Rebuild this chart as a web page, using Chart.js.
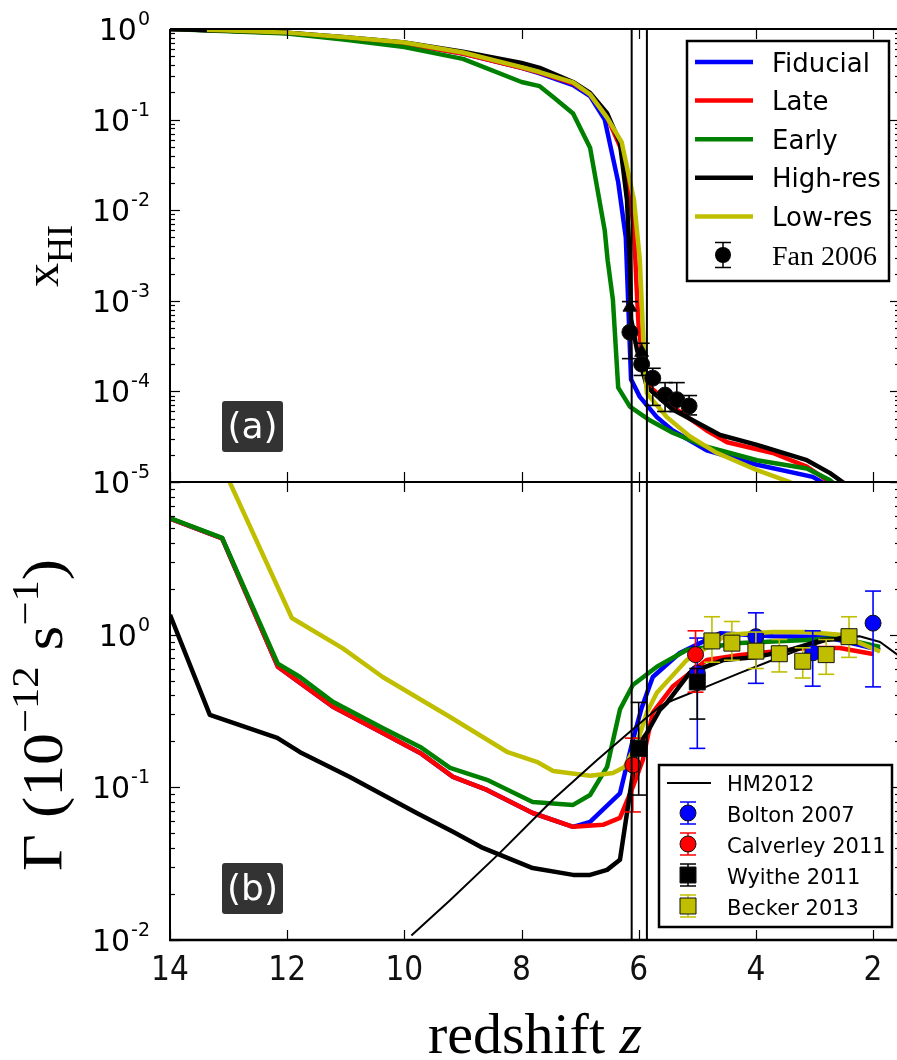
<!DOCTYPE html>
<html>
<head>
<meta charset="utf-8">
<title>Reionization history</title>
<script src="https://cdn.jsdelivr.net/npm/chart.js@4.4.0/dist/chart.umd.min.js"></script>
<style>
    html, body { margin: 0; padding: 0; background: #fff; overflow: hidden; width: 897px; height: 1060px; }
    canvas { position: absolute; left: 0; }
    #topChart { top: 0; }
    #botChart { top: 482px; }
</style>
</head>
<body>
<canvas id="topChart" width="905" height="500"></canvas>
<canvas id="botChart" width="905" height="578"></canvas>
<script>
// axes
const zTickValues = [14, 12, 10, 8, 6, 4, 2];
const zTickLabels = ['14', '12', '10', '8', '6', '4', '2'];
const xhiDecades = [0, -1, -2, -3, -4, -5];
const gammaDecades = [1, 0, -1, -2];
const gammaLabelDecades = [0, -1, -2];
const reionLinesZ = [6.12, 5.86];

// panel (a): neutral fraction, [z, x_HI]
const fiducialXHI = [[14, 1.0], [13, 0.955], [12, 0.904], [11, 0.794], [10, 0.692], [9, 0.537], [8, 0.372], [7.69, 0.324], [7.12, 0.240], [6.83, 0.182], [6.58, 0.100], [6.35, 0.0204], [6.22, 5.0e-3], [6.18, 1.0e-3], [6.13, 1.35e-4], [5.98, 8.7e-5], [5.69, 5.2e-5], [5.42, 3.7e-5], [4.84, 2.24e-5], [3.98, 1.55e-5], [3.03, 1.14e-5], [2.6, 7.9e-6]];
const lateXHI = [[14, 1.0], [13, 0.955], [12, 0.904], [11, 0.794], [10, 0.692], [9, 0.537], [8, 0.372], [7.69, 0.331], [7.12, 0.251], [6.83, 0.191], [6.54, 0.107], [6.29, 0.0457], [6.18, 0.0182], [6.08, 6.3e-3], [6.04, 1.6e-3], [6.0, 5.0e-4], [5.93, 2.24e-4], [5.81, 1.12e-4], [5.42, 6.8e-5], [4.84, 3.7e-5], [4.49, 2.75e-5], [3.71, 2.09e-5], [3.13, 1.48e-5], [2.74, 1.0e-5], [2.5, 7.9e-6]];
const earlyXHI = [[14, 1.0], [13, 0.944], [12, 0.891], [11, 0.759], [10, 0.631], [9, 0.468], [8, 0.26], [7.69, 0.234], [7.46, 0.178], [7.12, 0.117], [6.83, 0.049], [6.58, 6.0e-3], [6.53, 2.8e-3], [6.44, 1.02e-3], [6.35, 1.1e-4], [6.15, 6.8e-5], [5.81, 4.8e-5], [5.42, 3.5e-5], [4.84, 2.45e-5], [3.98, 1.74e-5], [3.13, 1.41e-5], [2.74, 1.05e-5], [2.5, 7.9e-6]];
const highresXHI = [[14, 1.0], [13, 0.955], [12, 0.912], [11, 0.813], [10, 0.708], [9, 0.562], [8, 0.422], [7.69, 0.372], [7.12, 0.26], [6.83, 0.197], [6.54, 0.118], [6.32, 0.0552], [6.20, 0.013], [6.15, 2.5e-3], [6.13, 6.3e-4], [6.03, 2.9e-4], [5.86, 1.12e-4], [5.42, 6.3e-5], [4.61, 3.3e-5], [3.98, 2.57e-5], [3.13, 1.74e-5], [2.74, 1.26e-5], [2.52, 1.0e-5], [2.3, 7.9e-6]];
const lowresXHI = [[13.37, 0.98], [12, 0.912], [11, 0.813], [10, 0.708], [9, 0.55], [8, 0.38], [7.69, 0.335], [7.12, 0.257], [6.83, 0.19], [6.54, 0.105], [6.29, 0.0562], [6.08, 0.0129], [5.98, 2.8e-3], [5.95, 1.0e-3], [5.91, 2.5e-4], [5.86, 9.5e-5], [5.52, 5.2e-5], [5.13, 3.2e-5], [4.67, 2.1e-5], [3.98, 1.35e-5], [3.42, 1.0e-5], [3.2, 7.9e-6]];

const fanZ = [6.15, 5.95, 5.76, 5.55, 5.35, 5.14];
const fanXHI = [4.5e-4, 2.0e-4, 1.4e-4, 9.1e-5, 8.1e-5, 6.9e-5];
const fanLo = [2.3e-4, 1.5e-4, 7.0e-5, 6.0e-5, 6.0e-5, 5.5e-5];
const fanHi = [9.8e-4, 3.4e-4, 1.8e-4, 1.25e-4, 1.25e-4, 9.0e-5];
const fanLimitZ = [6.15, 5.95];
const fanLimitXHI = [8.5e-4, 2.7e-4];

// panel (b): photoionization rate, [z, Gamma / 1e-12 s^-1]
const fiducialGamma = [[14, 5.75], [13.11, 4.27], [12.16, 0.617], [11.78, 0.483], [11.22, 0.337], [10.37, 0.227], [9.73, 0.168], [9.17, 0.117], [8.59, 0.0962], [7.81, 0.0679], [7.12, 0.0551], [6.83, 0.0594], [6.32, 0.0912], [6.10, 0.204], [5.95, 0.331], [5.76, 0.528], [5.30, 0.759], [4.61, 1.02], [3.71, 0.977], [2.79, 0.966], [1.88, 0.794]];
const lateGamma = [[14, 5.75], [13.11, 4.27], [12.16, 0.617], [11.78, 0.483], [11.22, 0.337], [10.37, 0.227], [9.73, 0.168], [9.17, 0.117], [8.59, 0.0962], [7.81, 0.0679], [7.12, 0.0551], [6.61, 0.0568], [6.32, 0.0631], [6.10, 0.1007], [5.93, 0.151], [5.76, 0.309], [5.42, 0.457], [4.84, 0.682], [4.27, 0.736], [3.13, 0.818], [2.57, 0.818], [2.0, 0.748]];
const earlyGamma = [[14, 5.81], [13.11, 4.30], [12.16, 0.646], [11.78, 0.528], [11.22, 0.363], [10.37, 0.245], [9.73, 0.184], [9.22, 0.134], [8.59, 0.112], [7.81, 0.0802], [7.12, 0.0767], [6.83, 0.0891], [6.54, 0.136], [6.32, 0.324], [6.10, 0.468], [5.69, 0.617], [5.18, 0.794], [4.27, 0.881], [3.13, 0.923], [2.57, 0.951], [1.88, 0.832]];
const highresGamma = [[14, 1.35], [13.32, 0.298], [12.17, 0.211], [11.78, 0.170], [10.93, 0.117], [9.79, 0.0679], [9.17, 0.0511], [8.66, 0.0401], [7.81, 0.0296], [7.12, 0.0267], [6.83, 0.0267], [6.54, 0.0288], [6.32, 0.0335], [6.15, 0.0912], [6.03, 0.184], [5.86, 0.227], [5.64, 0.321], [5.52, 0.357], [5.13, 0.562], [4.56, 0.682], [3.98, 0.715], [3.42, 0.794], [2.86, 0.923], [2.28, 0.951]];
const lowresGamma = [[13.4, 22.4], [11.92, 1.285], [11.05, 0.813], [10.37, 0.528], [9.22, 0.289], [8.25, 0.171], [7.74, 0.147], [7.46, 0.128], [6.83, 0.119], [6.44, 0.124], [6.24, 0.136], [6.03, 0.195], [5.86, 0.309], [5.69, 0.417], [5.18, 0.682], [4.49, 1.0], [3.71, 1.042], [3.13, 1.042], [2.57, 1.0], [1.88, 0.776]];
const hm2012Gamma = [[9.88, 0.0107], [9.22, 0.0182], [8.37, 0.0372], [7.46, 0.0832], [6.71, 0.151], [6.10, 0.240], [5.98, 0.263], [5.64, 0.339], [5.42, 0.372], [4.84, 0.457], [4.27, 0.562], [3.71, 0.682], [3.13, 0.832], [2.57, 0.966], [2.23, 0.977], [1.88, 0.895], [1.55, 0.724]];

const boltonZ = [5.0, 4.0, 3.03, 2.0];
const boltonGamma = [0.56, 0.97, 0.76, 1.19];
const boltonLo = [0.18, 0.48, 0.46, 0.455];
const boltonHi = [0.95, 1.39, 1.06, 1.93];
const calverleyZ = [6.1, 5.03];
const calverleyGamma = [0.14, 0.74];
const calverleyLo = [0.069, 0.42];
const calverleyHi = [0.21, 1.06];
const wyitheZ = [6.0, 5.0];
const wyitheGamma = [0.18, 0.49];
const wyitheLo = [0.089, 0.28];
const wyitheHi = [0.36, 0.60];
const beckerZ = [4.75, 4.41, 4.0, 3.6, 3.2, 2.8, 2.41];
const beckerGamma = [0.91, 0.88, 0.78, 0.75, 0.67, 0.74, 0.97];
const beckerLo = [0.66, 0.68, 0.60, 0.57, 0.52, 0.55, 0.71];
const beckerHi = [1.31, 1.22, 1.04, 0.93, 0.82, 0.93, 1.31];

const BLUE = '#0000ff', RED = '#ff0000', GREEN = '#008000', BLACK = '#000000', YELLOW = '#bfbf00';
const SANS = '"DejaVu Sans", sans-serif';
const SERIF = '"Liberation Serif", "DejaVu Serif", serif';

const pairs = arr => arr.map(([x, y]) => ({ x, y }));
const zip = (zs, vs) => zs.map((z, i) => ({ x: z, y: vs[i] }));

function curve(label, data, color, width, order) {
    return {
        label, data: pairs(data), borderColor: color, backgroundColor: color,
        borderWidth: width, pointRadius: 0, tension: 0, fill: false, order,
        borderJoinStyle: 'round'
    };
}

function markers(label, zs, vs, lo, hi, color, style, radius, order) {
    return {
        label, data: zip(zs, vs), showLine: false, order,
        pointStyle: style, pointRadius: radius, pointHoverRadius: radius,
        pointBackgroundColor: color, pointBorderColor: '#111', pointBorderWidth: 1,
        errLo: lo, errHi: hi, errColor: color
    };
}

function seg(ctx, x1, y1, x2, y2) {
    ctx.beginPath(); ctx.moveTo(x1, y1); ctx.lineTo(x2, y2); ctx.stroke();
}

// draws pieces of text one after another, optionally rotated to read upward
function richText(ctx, parts, x0, y0, align, rotated, stretch) {
    const sx = stretch || 1;
    let total = 0;
    parts.forEach(p => { ctx.font = p[1]; p.w = ctx.measureText(p[0]).width; total += p.w; });
    ctx.save();
    ctx.fillStyle = '#000';
    ctx.textBaseline = 'alphabetic';
    ctx.textAlign = 'left';
    if (rotated) {
        ctx.translate(x0, y0 + total * sx / 2);
        ctx.rotate(-Math.PI / 2);
    } else {
        ctx.translate(align === 'center' ? x0 - total * sx / 2 : x0, y0);
    }
    ctx.scale(sx, 1);
    let x = 0;
    parts.forEach(p => { ctx.font = p[1]; ctx.fillText(p[0], x, p[2] || 0); x += p.w; });
    ctx.restore();
}

function powLabel(ctx, exp, right, yc) {
    const sup = String(exp);
    ctx.save();
    ctx.fillStyle = '#000';
    ctx.textBaseline = 'alphabetic';
    ctx.font = '19px ' + SANS;
    const we = ctx.measureText(sup).width;
    ctx.textAlign = 'left';
    ctx.fillText(sup, right - we, yc - 4);
    ctx.font = '30px ' + SANS;
    ctx.textAlign = 'right';
    ctx.fillText('10', right - we - 1, yc + 11);
    ctx.restore();
}

function panelTag(ctx, text, x, y) {
    ctx.save();
    ctx.fillStyle = '#333333';
    ctx.beginPath();
    ctx.roundRect(x, y, 61, 51, 3);
    ctx.fill();
    ctx.fillStyle = '#fff';
    ctx.font = '36px ' + SANS;
    ctx.textAlign = 'center';
    ctx.textBaseline = 'alphabetic';
    ctx.fillText(text, x + 30.5, y + 37);
    ctx.restore();
}

function errMarker(ctx, x, y, half, color) {
    ctx.strokeStyle = color; ctx.lineWidth = 1.5;
    seg(ctx, x, y - half, x, y + half);
    seg(ctx, x - 8, y - half, x + 8, y - half);
    seg(ctx, x - 8, y + half, x + 8, y + half);
}

const errorBars = {
    id: 'errorBars',
    beforeDatasetDraw(chart, args) {
        const ds = chart.data.datasets[args.index];
        if (!ds.errLo) return;
        const { ctx } = chart;
        const x = chart.scales.x, y = chart.scales.y;
        ctx.save();
        ctx.strokeStyle = ds.errColor;
        ctx.lineWidth = 1.6;
        ds.data.forEach((p, i) => {
            const px = x.getPixelForValue(p.x);
            const y1 = y.getPixelForValue(ds.errLo[i]);
            const y2 = y.getPixelForValue(ds.errHi[i]);
            seg(ctx, px, y1, px, y2);
            seg(ctx, px - 8, y1, px + 8, y1);
            seg(ctx, px - 8, y2, px + 8, y2);
        });
        ctx.restore();
    }
};

function makeFrame(cfg) {
    return {
        id: 'frame',
        afterDatasetsDraw(chart) {
            const { ctx, chartArea: a } = chart;
            const x = chart.scales.x, y = chart.scales.y;
            ctx.save();
            ctx.strokeStyle = '#000';
            ctx.lineWidth = 2;
            reionLinesZ.forEach(z => {
                const px = x.getPixelForValue(z);
                seg(ctx, px, a.top, px, a.bottom);
            });
            ctx.lineWidth = 1.2;
            zTickValues.forEach(z => {
                const px = Math.round(x.getPixelForValue(z)) + 0.5;
                seg(ctx, px, a.top, px, a.top + 10);
                seg(ctx, px, a.bottom, px, a.bottom - 10);
            });
            cfg.decades.forEach(d => {
                for (let m = 1; m <= 9; m++) {
                    const v = m * Math.pow(10, d);
                    if (v > cfg.max * 1.0001 || v < cfg.min * 0.9999) continue;
                    const py = Math.round(y.getPixelForValue(v)) + 0.5;
                    const len = m === 1 ? 10 : 5;
                    seg(ctx, a.left, py, a.left + len, py);
                    seg(ctx, a.right, py, a.right - len, py);
                }
            });
            ctx.lineWidth = cfg.bottomSpine;
            seg(ctx, a.left - 1, a.bottom, a.right, a.bottom);
            ctx.lineWidth = 2;
            seg(ctx, a.left, a.top, a.right, a.top);
            seg(ctx, a.left, a.top, a.left, a.bottom + 1);
            seg(ctx, a.right, a.top, a.right, a.bottom);
            ctx.restore();
        },
        afterDraw(chart) {
            const { ctx } = chart;
            const y = chart.scales.y;
            cfg.labelDecades.forEach(d => powLabel(ctx, d, 150, y.getPixelForValue(Math.pow(10, d))));
            cfg.decorate(chart, ctx);
        }
    };
}

function drawLegendBox(ctx, x, y, w, h) {
    ctx.save();
    ctx.fillStyle = '#fff';
    ctx.fillRect(x, y, w, h);
    ctx.strokeStyle = '#000';
    ctx.lineWidth = 2.5;
    ctx.strokeRect(x, y, w, h);
    ctx.restore();
}

// ---------- panel (a) ----------
const topDatasets = [
    curve('Fiducial', fiducialXHI, BLUE, 4.5, 10),
    curve('Late', lateXHI, RED, 4.5, 9),
    curve('Early', earlyXHI, GREEN, 4.5, 8),
    curve('High-res', highresXHI, BLACK, 4.5, 7),
    curve('Low-res', lowresXHI, YELLOW, 4.5, 6),
    markers('Fan 2006', fanZ, fanXHI, fanLo, fanHi, BLACK, 'circle', 8, 5),
    markers('Fan 2006 limits', fanLimitZ, fanLimitXHI, null, null, BLACK, 'triangle', 8, 4)
];

function decorateTop(chart, ctx) {
    richText(ctx, [['x', '48px ' + SERIF, 0], ['HI', '36px ' + SERIF, 14]], 58, 256, null, true);
    panelTag(ctx, '(a)', 222, 401);
    drawLegendBox(ctx, 687, 41, 202, 240);
    const ds = chart.data.datasets;
    ctx.save();
    ctx.textBaseline = 'alphabetic';
    for (let i = 0; i < 5; i++) {
        const ry = 62 + i * 38.6;
        ctx.strokeStyle = ds[i].borderColor;
        ctx.lineWidth = 4.5;
        seg(ctx, 695, ry, 753, ry);
        ctx.fillStyle = '#000';
        ctx.font = '26px ' + SANS;
        ctx.fillText(ds[i].label, 772, ry + 9.5);
    }
    errMarker(ctx, 723, 255, 12.5, BLACK);
    ctx.fillStyle = BLACK;
    ctx.beginPath(); ctx.arc(723, 255, 8, 0, Math.PI * 2); ctx.fill();
    ctx.font = '28px ' + SERIF;
    ctx.fillText(ds[5].label, 772, 265);
    ctx.restore();
}

new Chart(document.getElementById('topChart'), {
    type: 'line',
    data: { datasets: topDatasets },
    options: {
        responsive: false,
        animation: false,
        layout: { autoPadding: false, padding: { left: 170, right: 5, top: 29, bottom: 18 } },
        plugins: { legend: { display: false }, tooltip: { enabled: false } },
        scales: {
            x: { type: 'linear', min: 1.54, max: 14, reverse: true, display: false },
            y: { type: 'logarithmic', min: 1e-5, max: 1, display: false }
        }
    },
    plugins: [errorBars, makeFrame({
        decades: xhiDecades, labelDecades: xhiDecades, min: 1e-5, max: 1, bottomSpine: 2, decorate: decorateTop
    })]
});

// ---------- panel (b) ----------
const botDatasets = [
    curve('Fiducial', fiducialGamma, BLUE, 4.5, 20),
    curve('Late', lateGamma, RED, 4.5, 19),
    curve('Early', earlyGamma, GREEN, 4.5, 18),
    curve('High-res', highresGamma, BLACK, 4.5, 17),
    curve('Low-res', lowresGamma, YELLOW, 4.5, 16),
    curve('HM2012', hm2012Gamma, BLACK, 2, 15),
    markers('Bolton 2007', boltonZ, boltonGamma, boltonLo, boltonHi, BLUE, 'circle', 8, 14),
    markers('Calverley 2011', calverleyZ, calverleyGamma, calverleyLo, calverleyHi, RED, 'circle', 8, 13),
    markers('Wyithe 2011', wyitheZ, wyitheGamma, wyitheLo, wyitheHi, BLACK, 'rect', 11.3, 12),
    markers('Becker 2013', beckerZ, beckerGamma, beckerLo, beckerHi, YELLOW, 'rect', 11.3, 11)
];

function decorateBottom(chart, ctx) {
    const x = chart.scales.x;
    const a = chart.chartArea;
    ctx.save();
    ctx.fillStyle = '#111';
    ctx.textAlign = 'center';
    ctx.textBaseline = 'alphabetic';
    zTickValues.forEach((z, i) => {
        ctx.save();
        ctx.translate(x.getPixelForValue(z), a.bottom + 40);
        ctx.scale(0.9, 1);
        ctx.font = '33px ' + SANS;
        ctx.fillText(zTickLabels[i], 0, 0);
        ctx.restore();
    });
    ctx.restore();
    richText(ctx, [['redshift ', '58px ' + SERIF, 0], ['z', 'italic 58px ' + SERIF, 0]], (a.left + a.right) / 2, 571, 'center', false);
    richText(ctx, [
        ['Γ ', '57px ' + SERIF, 0], ['(10', '57px ' + SERIF, 0], ['−12', '38px ' + SERIF, -24],
        [' s', '57px ' + SERIF, 0], ['−1', '38px ' + SERIF, -24], [')', '57px ' + SERIF, 0]
    ], 62, 233, null, true, 1.12);
    panelTag(ctx, '(b)', 222, 381);

    drawLegendBox(ctx, 659, 283, 233, 162);
    const ds = chart.data.datasets;
    ctx.save();
    ctx.textBaseline = 'alphabetic';
    ctx.font = '21px ' + SANS;
    ctx.fillStyle = '#000';
    ctx.strokeStyle = '#000';
    ctx.lineWidth = 2;
    seg(ctx, 667, 301, 711, 301);
    ctx.fillText(ds[5].label, 727, 309);
    for (let i = 6; i < 10; i++) {
        const ry = 331 + (i - 6) * 31;
        const d = ds[i];
        errMarker(ctx, 688, ry, 11, d.errColor);
        ctx.fillStyle = d.pointBackgroundColor;
        ctx.strokeStyle = '#111';
        ctx.lineWidth = 1;
        ctx.beginPath();
        if (d.pointStyle === 'circle') ctx.arc(688, ry, 8, 0, Math.PI * 2);
        else ctx.rect(680, ry - 8, 16, 16);
        ctx.fill(); ctx.stroke();
        ctx.fillStyle = '#000';
        ctx.fillText(d.label, 727, ry + 8.5);
    }
    ctx.restore();
}

new Chart(document.getElementById('botChart'), {
    type: 'line',
    data: { datasets: botDatasets },
    options: {
        responsive: false,
        animation: false,
        layout: { autoPadding: false, padding: { left: 170, right: 5, top: 0, bottom: 120 } },
        plugins: { legend: { display: false }, tooltip: { enabled: false } },
        scales: {
            x: { type: 'linear', min: 1.54, max: 14, reverse: true, display: false },
            y: { type: 'logarithmic', min: 1e-2, max: 10, display: false }
        }
    },
    plugins: [errorBars, makeFrame({
        decades: gammaDecades, labelDecades: gammaLabelDecades, min: 1e-2, max: 10, bottomSpine: 2.5, decorate: decorateBottom
    })]
});
</script>
</body>
</html>
